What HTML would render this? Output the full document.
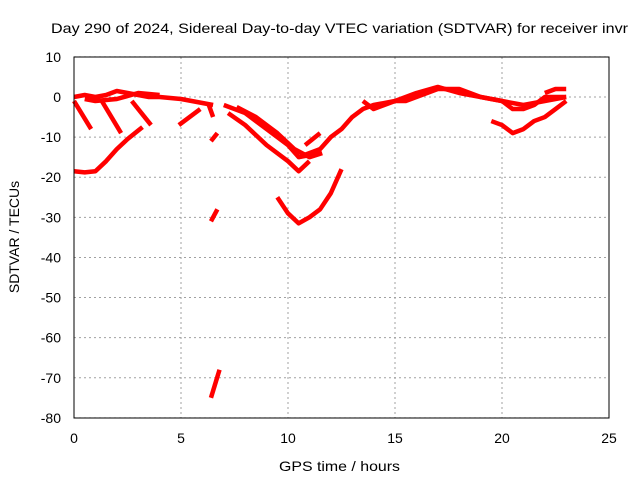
<!DOCTYPE html>
<html><head><meta charset="utf-8"><style>
body{margin:0;background:#fff}
svg text{font-family:"Liberation Sans",sans-serif;font-size:14px;fill:#000}
</style></head><body>
<svg id="chart" width="640" height="480">
<rect width="640" height="480" fill="#fff"/>
<text x="51" y="33" textLength="577" lengthAdjust="spacingAndGlyphs">Day 290 of 2024, Sidereal Day-to-day VTEC variation (SDTVAR) for receiver invr</text>
<text x="279" y="471" textLength="121" lengthAdjust="spacingAndGlyphs">GPS time / hours</text>
<text transform="translate(19,237) rotate(-90)" text-anchor="middle">SDTVAR / TECUs</text>
<g id="grid"></g><g id="series"></g>
<rect x="74" y="57" width="535" height="361" fill="none" stroke="#000"/>
</svg>
<script>
const xTicks=[0,5,10,15,20,25];
const yTicks=[10,0,-10,-20,-30,-40,-50,-60,-70,-80];
const track1X=[0,0.5,1,1.5,2,2.5,3.2];const track1Y=[-18.5,-18.8,-18.5,-16,-13,-10.5,-7.5];
const track2X=[0,0.5,1,1.5,2,2.5,3,3.5,4,5,6,6.5];const track2Y=[0,0.5,0,0.5,1.5,1,0.5,0,0,-0.5,-1.5,-2];
const track2bX=[0.5,1,2,3,4];const track2bY=[-0.5,-1,-0.5,1,0.5];
const drop1X=[0,0.8];const drop1Y=[-1,-8];
const drop2X=[1.3,2.2];const drop2Y=[-1,-9];
const drop3X=[2.7,3.6];const drop3Y=[-1,-7];
const drop4X=[4.9,5.9];const drop4Y=[-7,-3];
const drop5X=[6.3,6.5];const drop5Y=[-2,-5];
const drop6X=[6.4,6.7];const drop6Y=[-11,-9];
const drop7X=[6.4,6.7];const drop7Y=[-31,-28];
const drop8X=[6.4,6.8];const drop8Y=[-75,-68];
const track3X=[7.2,8,9,10,10.5,11];const track3Y=[-4,-7,-12,-16,-18.5,-16];
const track3bX=[7,8,9,10,10.5,11,11.5];const track3bY=[-2,-4,-8,-12,-15,-14.5,-13];
const track3cX=[7.6,8.5,9.5,10.3,11,11.6];const track3cY=[-2.5,-5,-9,-13,-15,-14];
const track4X=[9.5,10,10.5,11,11.5,12,12.5];const track4Y=[-25,-29,-31.5,-30,-28,-24,-18];
const track5X=[10.5,11,11.5,12,12.5,13,13.5,14,15,15.5,16,17,17.5,18,18.5,19,20,20.5,21,21.5,22,22.5,23];
const track5Y=[-15,-14,-13,-10,-8,-5,-3,-2,-1,-1,0,2,2,2,1,0,-1,-3,-3,-2,0,0,0];
const track5bX=[13.5,14,15,16,17,18,19,20,21,22,23];const track5bY=[-1,-3,-1,1,2.5,1,0,-1,-2,-1,0];
const track6X=[19.5,20,20.5,21,21.5,22,22.5,23];const track6Y=[-6,-7,-9,-8,-6,-5,-3,-1];
const track7X=[22,22.5,23];const track7Y=[1,2,2];
const track8X=[10.8,11.5];const track8Y=[-12,-9];
const sx=v=>74+v*(535/25);
const sy=v=>97-v*(361/90);
const NS="http://www.w3.org/2000/svg";
const grid=document.getElementById('grid');
xTicks.forEach(t=>{
 const l=document.createElementNS(NS,'line');
 
 
 l.setAttribute('x1',sx(t));l.setAttribute('x2',sx(t));l.setAttribute('y1',57);l.setAttribute('y2',418);
 l.setAttribute('stroke','#a0a0a0');l.setAttribute('stroke-dasharray','2,3');grid.appendChild(l);
 const tx=document.createElementNS(NS,'text');
 
 
 tx.setAttribute('x',sx(t));tx.setAttribute('y',443);tx.setAttribute('text-anchor','middle');tx.textContent=t;grid.appendChild(tx);
});
yTicks.forEach(t=>{
 const l=document.createElementNS(NS,'line');
 
 
 l.setAttribute('x1',74);l.setAttribute('x2',609);l.setAttribute('y1',sy(t));l.setAttribute('y2',sy(t));
 l.setAttribute('stroke','#a0a0a0');l.setAttribute('stroke-dasharray','2,3');grid.appendChild(l);
 const tx=document.createElementNS(NS,'text');
 
 
 tx.setAttribute('x',61);tx.setAttribute('y',sy(t)+5);tx.setAttribute('text-anchor','end');tx.textContent=t;grid.appendChild(tx);
});
const series=document.getElementById('series');
[[track1X,track1Y],[track2X,track2Y],[track2bX,track2bY],[drop1X,drop1Y],[drop2X,drop2Y],[drop3X,drop3Y],[drop4X,drop4Y],[drop5X,drop5Y],[drop6X,drop6Y],[drop7X,drop7Y],[drop8X,drop8Y],[track3X,track3Y],[track3bX,track3bY],[track3cX,track3cY],[track4X,track4Y],[track5X,track5Y],[track5bX,track5bY],[track6X,track6Y],[track7X,track7Y],[track8X,track8Y]].forEach(([xs,ys])=>{
 const p=document.createElementNS(NS,'polyline');
 
 
 p.setAttribute('points',xs.map((x,i)=>sx(x)+','+sy(ys[i])).join(' '));
 p.setAttribute('fill','none');p.setAttribute('stroke','#f00');p.setAttribute('stroke-width','4.5');
 p.setAttribute('stroke-linejoin','round');
 series.appendChild(p);
});
</script>
</body></html>
